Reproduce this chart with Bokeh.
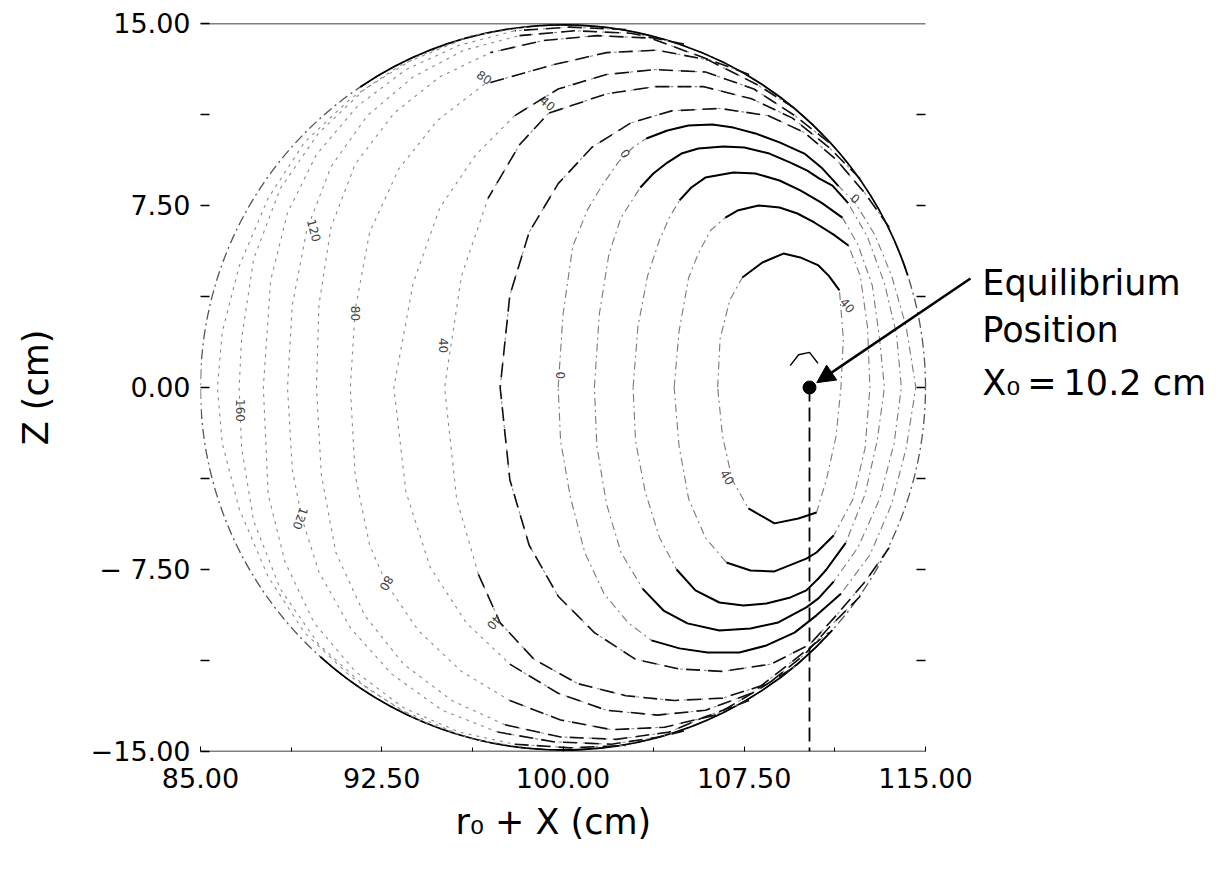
import math
from bokeh.plotting import figure
from bokeh.models import Range1d, LinearAxis, FixedTicker, Label, Arrow, NormalHead, Title
from bokeh.core.properties import value
from bokeh.embed import file_html
from bokeh.resources import INLINE

# ------------------------------------------------------------------ data
x_ticks = [85.0, 92.5, 100.0, 107.5, 115.0]
x_tick_labels = ["85.00", "92.50", "100.00", "107.50", "115.00"]
x_minor = [88.75, 96.25, 103.75, 111.25]
z_ticks = [-15.0, -7.5, 0.0, 7.5, 15.0]
z_tick_labels = ["\u221215.00", "\u2212 7.50", "0.00", "7.50", "15.00"]
z_minor = [-11.25, -3.75, 3.75, 11.25]
right_ticks = [-11.25, -7.5, -3.75, 0.0, 3.75, 7.5, 11.25]

x_title = "r\u2080 + X (cm)"
z_title = "Z (cm)"

wall_x = [100.0]
wall_z = [0.0]
wall_r = [15.0]

x_eq = 110.2
z_eq = 0.0

# closed contours around the equilibrium region (innermost first)
loop_x = [
    [106.4, 106.5, 106.9, 107.42, 108.25, 109.12, 109.82, 110.57, 111.0, 111.44, 111.6, 111.5,
     111.3, 110.9, 110.49, 109.74, 108.75, 107.67, 107.0, 106.6, 106.4],
    [104.6, 104.8, 105.2, 105.6, 106.1, 106.72, 107.22, 108.09, 108.96, 109.7, 110.4, 111.2, 111.81,
     112.3, 112.6, 112.7, 112.5, 112.0, 111.2, 110.49, 110.07, 108.75, 107.76, 106.76, 105.9, 105.2,
     104.8, 104.6],
    [102.9, 103.1, 103.5, 104.0, 104.4, 104.82, 105.31, 105.89, 107.05, 107.96, 108.96, 109.82, 110.69,
     111.56, 112.2, 112.8, 113.1, 113.3, 113.0, 112.5, 111.7, 110.9, 110.57, 110.07, 109.41, 108.42,
     107.47, 106.47, 105.48, 104.7, 104.0, 103.4, 103.0, 102.9],
    [101.3, 101.5, 101.9, 102.4, 103.2, 103.74, 104.32, 104.9, 105.6, 106.64, 107.51, 108.54, 109.41,
     110.11, 110.61, 111.15, 111.8, 112.6, 113.3, 113.8, 114.0, 113.7, 113.1, 112.2, 111.2, 110.57,
     110.07, 108.91, 107.76, 106.47, 105.15, 104.16, 103.3, 102.4, 101.8, 101.4, 101.3],
    [99.8, 100.0, 100.4, 101.0, 101.6, 102.3, 102.9, 103.45, 104.32, 105.19, 106.18, 107.05, 107.96,
     108.96, 109.99, 110.69, 111.4, 112.1, 112.9, 113.6, 114.2, 114.6, 114.2, 113.6, 112.7, 111.5,
     110.49, 109.58, 108.42, 107.3, 105.98, 104.82, 103.66, 102.7, 101.7, 100.9, 100.3, 99.9, 99.8],
]
loop_z = [
    [0.0, 2.0, 3.6, 4.53, 5.15, 5.52, 5.36, 5.03, 4.6, 4.0, 2.0, 0.0,
     -2.0, -3.8, -5.15, -5.4, -5.6, -4.98, -3.8, -2.0, 0.0],
    [0.0, 2.3, 4.53, 5.52, 6.47, 7.0, 7.29, 7.5, 7.42, 7.17, 6.8, 6.3, 5.85,
     4.6, 2.5, 0.0, -2.5, -4.6, -6.1, -6.8, -7.05, -7.58, -7.54, -7.21, -6.2, -4.6,
     -2.4, 0.0],
    [0.0, 2.5, 4.6, 6.1, 7.0, 7.71, 8.24, 8.65, 8.86, 8.82, 8.53, 8.12, 7.62,
     7.0, 5.9, 4.2, 2.0, 0.0, -2.2, -4.4, -6.4, -7.5, -7.87, -8.36, -8.65, -8.9,
     -8.98, -8.86, -8.36, -7.5, -6.2, -4.3, -2.2, 0.0],
    [0.0, 3.0, 5.5, 7.0, 8.24, 8.82, 9.27, 9.64, 9.85, 9.93, 9.89, 9.64, 9.27,
     8.94, 8.61, 8.32, 7.6, 6.2, 4.3, 2.2, 0.0, -2.3, -4.6, -6.6, -8.0, -8.69,
     -9.06, -9.68, -9.93, -10.01, -9.72, -9.19, -8.3, -6.8, -4.8, -2.4, 0.0],
    [0.0, 3.0, 5.8, 7.3, 8.3, 9.3, 9.9, 10.26, 10.59, 10.8, 10.84, 10.71, 10.47,
     10.1, 9.64, 9.07, 8.3, 7.6, 6.3, 4.6, 2.5, 0.0, -2.5, -4.8, -6.9, -8.5,
     -9.39, -10.1, -10.63, -10.92, -10.92, -10.75, -10.42, -9.7, -8.5, -6.8, -4.5, -2.2, 0.0],
]

# open contours that wrap round the loops and end on the wall (levels 20 ... 180)
outer_x = [
    [113.5, 112.5, 111.3, 110.0, 108.5, 106.5, 104.5, 102.8, 101.2, 99.8, 98.6, 97.8, 97.4,
     97.8, 98.6, 99.8, 101.3, 103.0, 104.8, 106.6, 108.6, 110.2, 111.3, 112.5, 113.5],
    [112.3, 111.0, 109.5, 107.8, 105.8, 103.8, 101.8, 99.4, 98.2, 96.9, 95.8, 95.1,
     95.6, 96.5, 97.4, 98.8, 100.6, 102.6, 104.6, 106.6, 108.5, 110.0, 111.0, 112.3],
    [111.0, 109.6, 107.9, 105.9, 103.8, 101.8, 99.8, 98.0, 96.4, 94.9, 93.8, 93.0,
     93.5, 94.5, 96.0, 97.8, 99.8, 101.8, 103.9, 105.9, 107.8, 109.6, 111.0],
    [109.6, 108.0, 106.0, 103.9, 101.8, 99.6, 96.75, 94.8, 93.2, 92.0, 91.4, 91.2,
     91.4, 92.0, 92.7, 94.0, 95.8, 97.8, 99.9, 102.0, 104.2, 106.3, 108.0, 109.6],
    [107.7, 105.8, 103.6, 101.4, 99.2, 97.0, 94.9, 93.0, 91.4, 90.4, 89.9, 89.8,
     90.0, 90.6, 91.8, 93.4, 95.4, 97.6, 99.9, 102.2, 104.4, 105.8, 107.7],
    [105.0, 102.8, 100.5, 98.2, 95.9, 93.8, 91.9, 90.4, 89.4, 88.8, 88.6,
     88.8, 89.2, 89.9, 91.2, 92.9, 95.0, 97.3, 99.6, 102.0, 104.0, 105.0],
    [102.6, 100.3, 98.0, 95.7, 93.5, 91.5, 89.8, 88.6, 87.9, 87.6,
     87.8, 88.5, 89.7, 91.4, 93.4, 95.7, 98.0, 100.3, 102.6],
    [98.5, 96.2, 93.9, 91.8, 89.9, 88.3, 87.2, 86.7, 86.6,
     86.7, 87.2, 88.3, 89.9, 91.9, 94.0, 96.3, 98.5],
    [95.5, 93.3, 91.2, 89.3, 87.8, 86.6, 85.9, 85.7,
     85.9, 86.6, 87.8, 89.3, 91.2, 93.3, 95.5],
]
outer_z = [
    [6.6, 8.0, 9.4, 10.5, 11.2, 11.5, 11.4, 10.9, 9.9, 8.4, 6.4, 3.8, 0.0,
     -3.8, -6.5, -8.6, -10.1, -11.2, -11.6, -11.7, -11.4, -10.6, -9.4, -8.0, -6.6],
    [8.6, 9.9, 11.1, 11.9, 12.4, 12.4, 12.1, 11.3, 10.0, 7.8, 4.6, 0.0,
     -4.6, -7.7, -9.7, -11.2, -12.2, -12.7, -12.9, -12.8, -12.2, -11.0, -9.9, -8.6],
    [10.1, 11.2, 12.3, 13.0, 13.1, 12.9, 12.3, 11.2, 9.6, 7.4, 4.3, 0.0,
     -4.3, -7.4, -9.7, -11.4, -12.6, -13.3, -13.5, -13.3, -12.6, -11.2, -10.1],
    [11.5, 12.5, 13.5, 13.9, 13.8, 13.3, 12.5, 11.0, 9.0, 6.4, 3.2, 0.0,
     -3.6, -6.5, -8.1, -10.0, -11.7, -12.9, -13.7, -14.1, -14.0, -13.5, -12.5, -11.5],
    [12.9, 13.6, 14.4, 14.5, 14.3, 13.8, 12.8, 11.3, 9.2, 6.6, 3.4, 0.0,
     -3.6, -6.8, -9.4, -11.4, -12.9, -13.9, -14.4, -14.5, -14.2, -13.6, -12.9],
    [14.15, 14.6, 14.7, 14.5, 13.9, 12.8, 11.2, 9.1, 6.5, 3.4, 0.0,
     -3.4, -5.4, -7.6, -9.9, -11.8, -13.3, -14.2, -14.6, -14.7, -14.4, -14.15],
    [14.75, 14.85, 14.7, 14.1, 13.1, 11.6, 9.6, 7.2, 4.4, 0.0,
     -4.4, -7.2, -9.7, -11.7, -13.2, -14.2, -14.7, -14.85, -14.75],
    [14.85, 14.5, 13.6, 12.3, 10.5, 8.2, 5.3, 2.0, 0.0,
     -2.5, -5.5, -8.3, -10.6, -12.4, -13.7, -14.5, -14.85],
    [14.2, 13.3, 11.9, 10.1, 7.8, 5.0, 2.3, 0.0,
     -2.3, -5.0, -7.8, -10.1, -11.9, -13.3, -14.2],
]

# small contour just above the equilibrium point
core_x = [109.4, 109.75, 110.2, 110.55]
core_z = [0.9, 1.35, 1.45, 1.0]

# contour labels
lab_text = ["160", "120", "80", "40", "0", "80", "40", "0", "0", "40", "40", "120", "80", "40"]
lab_x = [86.65, 89.7, 91.4, 95.05, 99.9, 96.75, 99.36, 102.58, 112.1, 111.77, 106.8, 89.14, 92.7, 97.16]
lab_z = [-0.95, 6.47, 3.05, 1.73, 0.5, 12.78, 11.7, 9.64, 7.79, 3.38, -3.7, -5.4, -8.07, -9.68]
lab_angle_deg = [-90, -75, -90, -90, -90, -35, -40, -55, -40, -50, -60, -110, -120, -130]

annotation_lines = ["Equilibrium", "Position", "X\u2080\u2009=\u200910.2 cm"]

# ------------------------------------------------------------------ layout / styling
FONT = "DejaVu Sans"
W, H = 1221, 874
FRAME_L, FRAME_R, FRAME_T, FRAME_B = 200, 925, 23, 751      # pixel box of the plotted square
px_per_x = (FRAME_R - FRAME_L) / (x_ticks[-1] - x_ticks[0])
x_end = x_ticks[0] + (W - FRAME_L) / px_per_x                # room on the right for the annotation
tick_len = 9 / px_per_x


def runs(xs, zs, mask):
    out_x, out_z, cx, cz = [], [], [], []
    for x, z, m in zip(xs, zs, mask):
        if m:
            cx.append(x); cz.append(z)
        else:
            if len(cx) > 1:
                out_x.append(cx); out_z.append(cz)
            cx, cz = [], []
    if len(cx) > 1:
        out_x.append(cx); out_z.append(cz)
    return out_x, out_z


p = figure(width=W, height=H, x_range=Range1d(x_ticks[0], x_end), y_range=Range1d(z_ticks[0], z_ticks[-1]),
           output_backend="svg", toolbar_location=None,
           min_border_left=FRAME_L, min_border_right=0, min_border_top=FRAME_T, min_border_bottom=H - FRAME_B)
p.outline_line_color = None
p.grid.visible = False
p.xaxis.visible = False
p.yaxis.visible = False

# bottom axis (labels + inward ticks; the line itself is drawn as the frame below)
xb = LinearAxis(ticker=FixedTicker(ticks=x_ticks, minor_ticks=x_minor),
                major_label_overrides={t: s for t, s in zip(x_ticks, x_tick_labels)})
xb.axis_line_color = None
xb.major_tick_in = 5; xb.major_tick_out = 0; xb.minor_tick_in = 4; xb.minor_tick_out = 0
xb.major_label_text_font = FONT; xb.major_label_text_font_size = "27px"
xb.major_label_text_color = "black"
xb.major_label_standoff = 16
p.add_layout(xb, "below")

# x title, under the square plot (the frame runs on to the right for the annotation)
title_left_px = 455
p.add_layout(Title(text=x_title, align="left", offset=title_left_px - FRAME_L,
                   text_font=FONT, text_font_size="35px", text_font_style="normal",
                   text_color="black", standoff=18), "below")

# left axis
yl = LinearAxis(ticker=FixedTicker(ticks=z_ticks, minor_ticks=z_minor),
                major_label_overrides={t: s for t, s in zip(z_ticks, z_tick_labels)},
                axis_label=z_title)
yl.axis_line_color = None
yl.major_tick_in = 9; yl.major_tick_out = 0; yl.minor_tick_in = 9; yl.minor_tick_out = 0
yl.major_tick_line_width = 1.5; yl.minor_tick_line_width = 1.5
yl.major_label_text_font = FONT; yl.major_label_text_font_size = "27px"
yl.major_label_text_color = "black"
yl.major_label_standoff = 10
yl.axis_label_text_font = FONT; yl.axis_label_text_font_size = "35px"
yl.axis_label_text_color = "black"
yl.axis_label_text_font_style = "normal"; yl.axis_label_standoff = 32
p.add_layout(yl, "left")

# top and bottom frame lines, right-hand inward ticks
p.segment(x0=[x_ticks[0]] * 2, x1=[x_ticks[-1]] * 2, y0=[z_ticks[0], z_ticks[-1]], y1=[z_ticks[0], z_ticks[-1]],
          line_color="black", line_width=1.6)
p.segment(x0=[x_ticks[-1]] * len(right_ticks), x1=[x_ticks[-1] - tick_len] * len(right_ticks),
          y0=right_ticks, y1=right_ticks, line_color="black", line_width=1.5)

# wall of the chamber
p.arc(x=wall_x, y=wall_z, radius=wall_r, start_angle=0, end_angle=2 * math.pi,
      line_color="#555555", line_width=1.3, line_dash="10 4 2 4")
p.arc(x=wall_x, y=wall_z, radius=wall_r, start_angle=math.radians(18), end_angle=math.radians(124),
      line_color="black", line_width=1.8)
p.arc(x=wall_x, y=wall_z, radius=wall_r, start_angle=math.radians(228), end_angle=math.radians(318),
      line_color="black", line_width=1.8)

# outer contours: faint everywhere, dashed dark in the top / bottom bands
p.multi_line(xs=outer_x, ys=outer_z, line_color="#8a8a8a", line_width=1.1, line_dash="3 5")
ox, oz = [], []
for xs, zs in zip(outer_x, outer_z):
    a, b = runs(xs, zs, [x >= 96.5 for x in xs])
    ox += a; oz += b
p.multi_line(xs=ox, ys=oz, line_color="#111111", line_width=1.6, line_dash="14 8")

# closed contours: faint dash-dot, solid on the arches
solid_from = [107.3, 106.6, 104.7, 103.1, 103.3]
p.multi_line(xs=loop_x, ys=loop_z, line_color="#7a7a7a", line_width=1.1, line_dash="8 4 2 4")
lx, lz = [], []
for xs, zs, thr in zip(loop_x, loop_z, solid_from):
    zmax = max(abs(z) for z in zs)
    a, b = runs(xs, zs, [(x >= thr and abs(z) >= 0.7 * zmax) for x, z in zip(xs, zs)])
    lx += a; lz += b
p.multi_line(xs=lx, ys=lz, line_color="black", line_width=2.0)
p.line(core_x, core_z, line_color="black", line_width=1.4)

# contour labels
p.text(x=lab_x, y=lab_z, text=lab_text, angle=[math.radians(a) for a in lab_angle_deg],
       text_font=value(FONT), text_font_size="12px", text_color="#444444",
       text_align="center", text_baseline="middle")

# equilibrium position
p.line([x_eq, x_eq], [z_eq, z_ticks[0]], line_color="black", line_width=1.8, line_dash="14 6")
p.scatter([x_eq], [z_eq], size=13, color="black")

p.add_layout(Arrow(end=NormalHead(size=18, fill_color="black", line_color="black"),
                   x_start=116.86, y_start=4.49, x_end=110.5, y_end=0.2,
                   line_width=2.5, line_color="black"))
for txt, zz in zip(annotation_lines, [4.29, 2.35, 0.17]):
    p.add_layout(Label(x=117.35, y=zz, text=txt, text_font=FONT, text_font_size="35px",
                       text_color="black", text_baseline="alphabetic", text_align="left"))

open("out.html", "w").write(file_html(p, INLINE))
